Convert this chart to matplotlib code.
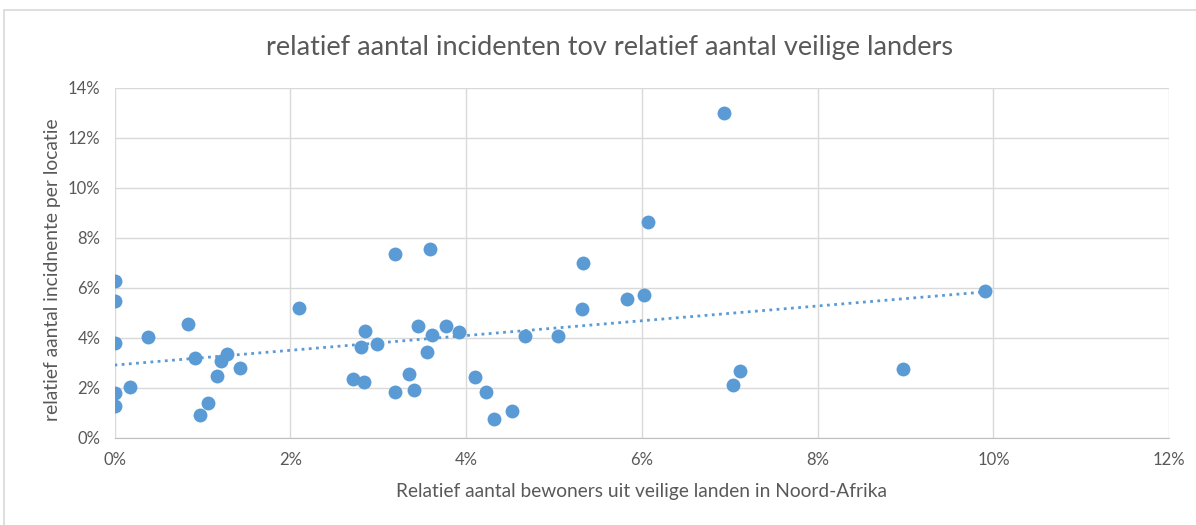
import numpy as np
import matplotlib.pyplot as plt
from matplotlib.ticker import FuncFormatter, MultipleLocator
from matplotlib.patches import Rectangle

# data (percentages)
veilige_landen = [0.00, 0.00, 0.00, 0.00, 0.00, 0.18, 0.38, 0.84, 0.92, 0.97,
                  1.06, 1.17, 1.21, 1.28, 1.43, 2.10, 3.19, 3.59, 2.85, 2.81,
                  2.99, 2.71, 2.84, 3.19, 3.35, 3.41, 3.45, 3.61, 3.55, 3.77,
                  3.92, 4.10, 4.23, 4.32, 4.52, 4.67, 5.04, 5.32, 5.33, 5.83,
                  6.02, 6.07, 7.04, 7.12, 6.93, 8.97, 9.90]
incidenten = [6.30, 5.49, 3.80, 1.81, 1.29, 2.05, 4.06, 4.57, 3.22, 0.94,
              1.41, 2.49, 3.08, 3.38, 2.82, 5.21, 7.37, 7.58, 4.27, 3.66,
              3.76, 2.37, 2.23, 1.85, 2.57, 1.93, 4.49, 4.14, 3.44, 4.49,
              4.26, 2.45, 1.84, 0.76, 1.08, 4.08, 4.08, 5.17, 7.01, 5.57,
              5.73, 8.66, 2.13, 2.69, 12.99, 2.77, 5.89]

title = 'relatief aantal incidenten tov relatief aantal veilige landers'
xlabel = 'Relatief aantal bewoners uit veilige landen in Noord-Afrika'
ylabel = 'relatief aantal incidnente per locatie'

blue = '#5B9BD5'
grey_text = '#595959'
grid_col = '#D9D9D9'

plt.rcParams['font.family'] = ['Lato', 'DejaVu Sans']

x = np.array(veilige_landen)
y = np.array(incidenten)

fig = plt.figure(figsize=(11.96, 5.25), dpi=100)
fig.patches.append(Rectangle((4 / 1196, -0.01), 1.02, 1 - 10 / 525 + 0.01,
                             transform=fig.transFigure, fill=False,
                             edgecolor='#D9D9D9', linewidth=1.2))

ax = fig.add_axes([114.5 / 1196, 1 - 438 / 525, (1169.3 - 114.5) / 1196, 350 / 525])

ax.scatter(x, y, s=100, color=blue, zorder=3, linewidths=0)

# linear trendline over the data range
k, b = np.polyfit(x, y, 1)
xt = np.array([x.min(), x.max()])
ax.plot(xt, k * xt + b, linestyle=(0, (1, 1.6)), color=blue, linewidth=2, zorder=2)

ax.set_xlim(0, 12)
ax.set_ylim(0, 14)
ax.xaxis.set_major_locator(MultipleLocator(2))
ax.yaxis.set_major_locator(MultipleLocator(2))
pct = FuncFormatter(lambda v, p: f'{v:.0f}%')
ax.xaxis.set_major_formatter(pct)
ax.yaxis.set_major_formatter(pct)

ax.grid(True, color=grid_col, linewidth=1)
ax.set_axisbelow(True)
for side in ['top', 'right', 'left']:
    ax.spines[side].set_visible(False)
ax.spines['bottom'].set_color('#BFBFBF')
ax.tick_params(length=0, labelsize=12, colors=grey_text, pad=10)

ax.set_xlabel(xlabel, fontsize=13.8, color=grey_text, labelpad=11)
ax.set_ylabel(ylabel, fontsize=13.9, color=grey_text, labelpad=5)
ax.yaxis.label.set_y(0.48)
fig.text(0.5 + 12 / 1196, 1 - 47 / 525, title, ha='center', va='center',
         fontsize=19.5, color=grey_text)

fig.savefig('out.png', dpi=100)
